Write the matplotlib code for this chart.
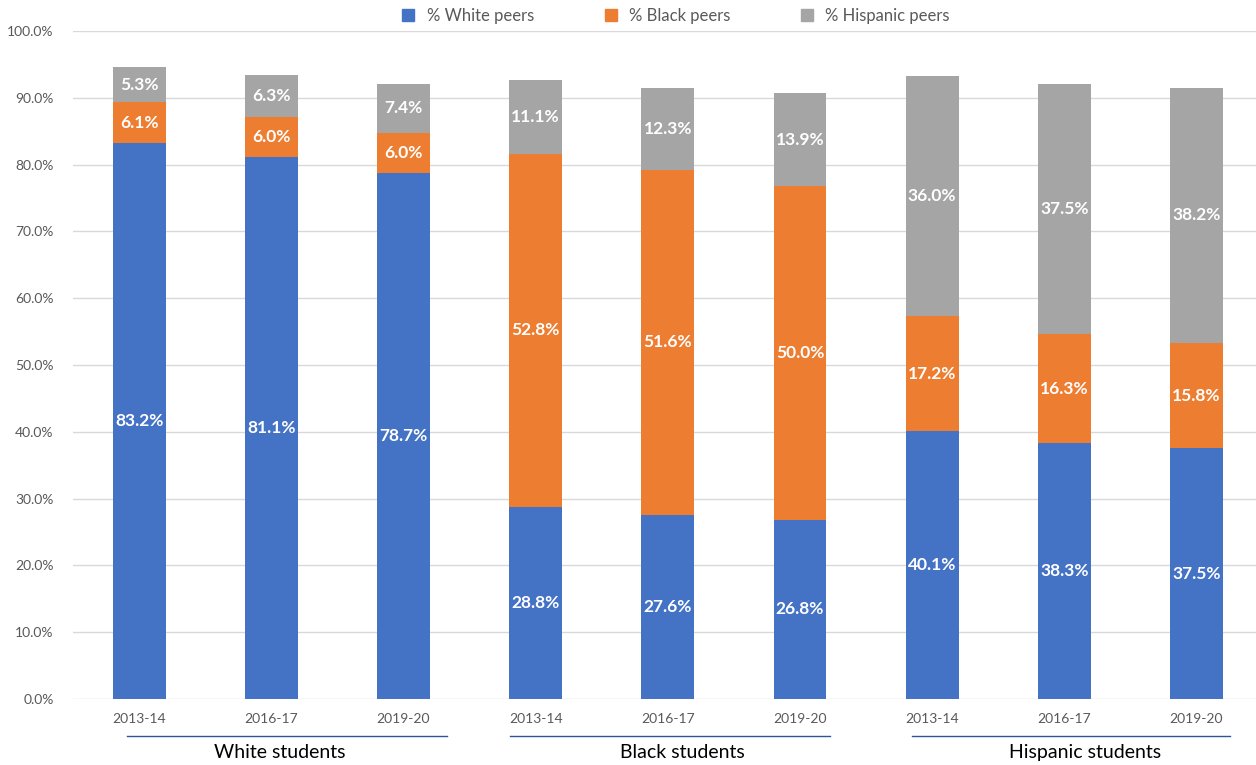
import matplotlib
matplotlib.use("Agg")
import matplotlib.pyplot as plt
from matplotlib.lines import Line2D
import numpy as np

plt.rcParams['font.family'] = ['Lato', 'DejaVu Sans']

years = ['2013-14', '2016-17', '2019-20'] * 3
groups = ['White students', 'Black students', 'Hispanic students']
white_peers = [83.2, 81.1, 78.7, 28.8, 27.6, 26.8, 40.1, 38.3, 37.5]
black_peers = [6.1, 6.0, 6.0, 52.8, 51.6, 50.0, 17.2, 16.3, 15.8]
hisp_peers = [5.3, 6.3, 7.4, 11.1, 12.3, 13.9, 36.0, 37.5, 38.2]

series = [('% White peers', white_peers, '#4472C4'),
          ('% Black peers', black_peers, '#ED7D31'),
          ('% Hispanic peers', hisp_peers, '#A5A5A5')]

fig = plt.figure(figsize=(12.56, 7.65), dpi=100)
ax = fig.add_axes([0.0581, 0.0863, 0.9419, 0.8732])

x = np.arange(len(years))
bottom = np.zeros(len(years))
for name, vals, col in series:
    vals = np.array(vals)
    ax.bar(x, vals, 0.40, bottom=bottom, color=col, label=name, zorder=3)
    for xi, b, v in zip(x, bottom, vals):
        ax.text(xi, b + v / 2, f'{v:.1f}%', ha='center', va='center',
                color='white', fontsize=12.5, fontweight='bold', zorder=4)
    bottom += vals

ax.set_xlim(-0.5, 8.45)
ax.set_ylim(0, 100)
ax.set_yticks(np.arange(0, 101, 10))
ax.set_yticklabels([f'{t:.1f}%' for t in range(0, 101, 10)])
ax.grid(axis='y', color='#D9D9D9', lw=1, zorder=0)
for s in ax.spines.values():
    s.set_visible(False)
ax.tick_params(axis='both', length=0, colors='#595959', labelsize=10)
ax.tick_params(axis='y', pad=14)
ax.set_xticks(x)
ax.set_xticklabels(years)
ax.tick_params(axis='x', pad=10)

# group brackets under the year labels
trans = ax.get_xaxis_transform()
spans = [(-0.09, 2.33), (-0.19, 2.23), (-0.15, 2.25)]
label_x = [1.066, 4.114, 7.155]
for i, (g, (a, b)) in enumerate(zip(groups, spans)):
    ax.plot([3 * i + a, 3 * i + b], [-0.055, -0.055], color='#2F5597', lw=1,
            transform=trans, clip_on=False)
    ax.text(label_x[i], -0.08, g, transform=trans,
            ha='center', va='center', fontsize=14, color='black')

handles = [Line2D([], [], marker='s', ls='', color=c, markersize=8)
           for _, _, c in series]
fig.legend(handles, [s[0] for s in series], loc='center', ncol=3,
           bbox_to_anchor=(0.534, 0.979), frameon=False, fontsize=12,
           columnspacing=3.6, handletextpad=0.1, labelcolor='#595959')

fig.savefig('out.png', dpi=100)
